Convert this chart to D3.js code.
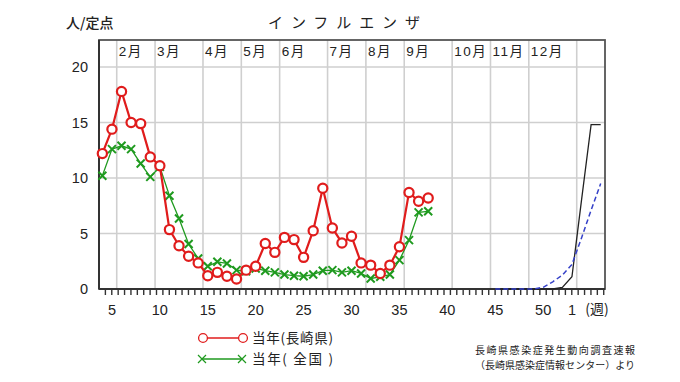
<!DOCTYPE html>
<html>
<head>
<meta charset="utf-8">
<script src="https://cdn.jsdelivr.net/npm/d3@7"></script>
<style>
  body { margin: 0; background: #fff; }
  svg text { font-family: "Liberation Sans Narrow", "Liberation Sans", sans-serif; fill: #222; }
  svg text.jp { font-family: "Noto Sans CJK JP", sans-serif; }
</style>
</head>
<body>
<svg id="chart" width="680" height="382"></svg>
<script>
// weekly reports per sentinel site
const weeks = d3.range(4, 39);
const nagasaki = [12.2, 14.4, 17.8, 15.0, 14.9, 11.9, 11.1, 5.35, 3.9, 2.95, 2.35, 1.2, 1.5, 1.15, 0.9,
  1.7, 2.05, 4.1, 3.3, 4.65, 4.45, 2.85, 5.25, 9.07, 5.5, 4.15, 4.75, 2.35, 2.15, 1.4, 2.15, 3.8, 8.7, 7.9, 8.2];
const national = [10.2, 12.6, 12.9, 12.6, 11.3, 10.1, 11.0, 8.4, 6.35, 4.05, 2.75, 2.05, 2.45, 2.3, 1.7,
  1.6, 1.85, 1.65, 1.5, 1.3, 1.2, 1.15, 1.3, 1.65, 1.7, 1.5, 1.65, 1.4, 0.95, 1.1, 1.3, 2.6, 4.4, 6.9, 7.0];

// tail lines on the right (solid black / dashed blue)
const lateWeeks = d3.range(45, 57);
const lateSolid = [0, 0, 0, 0, 0, 0, 0, 0.15, 1.1, 8.0, 14.8, 14.8];
const lateDashed = [0, 0, 0, 0, 0, 0.15, 0.65, 1.25, 2.2, 4.6, 7.1, 9.5];

const yTicks = [0, 5, 10, 15, 20];
const weekTicks = [5, 10, 15, 20, 25, 30, 35, 40, 45, 50, 53];
const weekTickLabels = ["5", "10", "15", "20", "25", "30", "35", "40", "45", "50", "1"];
const monthBounds = [5.5, 9.5, 14.5, 18.5, 22.5, 27.5, 31.5, 35.5, 40.5, 44.5, 48.5, 53.5];
const monthLabels = ["2月", "3月", "4月", "5月", "6月", "7月", "8月", "9月", "10月", "11月", "12月"];

const box = { left: 99, right: 605, top: 40, bottom: 289 };
const red = "#e01c1c", green = "#1f9a1f";

const svg = d3.select("#chart");
const x = d3.scaleLinear().domain([3.65, 56.45]).range([box.left, box.right]);
const y = d3.scaleLinear().domain([0, 20]).range([box.bottom, 67]);

// grid
const grid = svg.append("g").attr("stroke", "#cfcfcf").attr("stroke-width", 1.6);
grid.selectAll(".vg").data(monthBounds).join("line")
  .attr("x1", d => x(d)).attr("x2", d => x(d)).attr("y1", box.top).attr("y2", box.bottom);
grid.selectAll(".hg").data(yTicks.slice(1)).join("line")
  .attr("x1", box.left).attr("x2", box.right).attr("y1", d => y(d)).attr("y2", d => y(d));

// frame
svg.append("rect").attr("x", box.left).attr("y", box.top)
  .attr("width", box.right - box.left).attr("height", box.bottom - box.top)
  .attr("fill", "none").attr("stroke", "#555").attr("stroke-width", 1.8);
svg.append("line").attr("x1", box.left).attr("x2", box.right).attr("y1", box.bottom).attr("y2", box.bottom)
  .attr("stroke", "#333").attr("stroke-width", 2);
svg.append("line").attr("x1", box.left).attr("x2", box.left).attr("y1", box.top).attr("y2", box.bottom)
  .attr("stroke", "#333").attr("stroke-width", 2);

// minor ticks under the axis
svg.append("g").selectAll("line").data(d3.range(3.65 + 2 / 3, 56.45, 2 / 3)).join("line")
  .attr("x1", d => x(d)).attr("x2", d => x(d)).attr("y1", box.bottom).attr("y2", box.bottom + 6)
  .attr("stroke", "#333").attr("stroke-width", 1.4);

// axis labels
svg.append("g").selectAll("text").data(yTicks).join("text")
  .attr("x", 88).attr("y", d => y(d)).attr("dy", "0.36em").attr("text-anchor", "end")
  .attr("font-size", 14.5).text(d => d);
svg.append("g").selectAll("text").data(weekTicks).join("text")
  .attr("x", d => x(d)).attr("y", 315).attr("text-anchor", "middle")
  .attr("font-size", 14.5).text((d, i) => weekTickLabels[i]);
svg.append("text").attr("class", "jp").attr("x", box.right - 8).attr("y", 314).attr("text-anchor", "middle")
  .attr("font-size", 14).text("(週)");

svg.append("g").selectAll("text").data(monthLabels).join("text")
  .attr("x", (d, i) => x(monthBounds[i]) + 2).attr("y", 56)
  .attr("font-size", 13.5).attr("letter-spacing", "1.5px")
  .style("font-family", "\"Liberation Sans\", \"Noto Sans CJK JP\", sans-serif")
  .text(d => d);

svg.append("text").attr("class", "jp").attr("x", 66).attr("y", 28).attr("font-size", 14)
  .attr("font-weight", 500).text("人/定点");
svg.append("text").attr("class", "jp").attr("x", 268).attr("y", 28).attr("font-size", 15)
  .attr("textLength", 152).attr("lengthAdjust", "spacing").text("インフルエンザ");

// tail lines
const lineOf = xs => d3.line().x((d, i) => x(xs[i])).y(d => y(d));
svg.append("path").datum(lateSolid).attr("d", lineOf(lateWeeks))
  .attr("fill", "none").attr("stroke", "#222").attr("stroke-width", 1.3);
svg.append("path").datum(lateDashed).attr("d", lineOf(lateWeeks))
  .attr("fill", "none").attr("stroke", "#3440c8").attr("stroke-width", 1.5).attr("stroke-dasharray", "5,3");

// national series
svg.append("path").datum(national).attr("d", lineOf(weeks))
  .attr("fill", "none").attr("stroke", green).attr("stroke-width", 1.3);
const cross = (g, cx, cy) => g.append("path")
  .attr("d", `M${cx - 4},${cy - 4}L${cx + 4},${cy + 4}M${cx - 4},${cy + 4}L${cx + 4},${cy - 4}`)
  .attr("stroke", green).attr("stroke-width", 2).attr("fill", "none");
const gx = svg.append("g");
national.forEach((v, i) => cross(gx, x(weeks[i]), y(v)));

// Nagasaki series
svg.append("path").datum(nagasaki).attr("d", lineOf(weeks))
  .attr("fill", "none").attr("stroke", red).attr("stroke-width", 2.2);
svg.append("g").selectAll("circle").data(nagasaki).join("circle")
  .attr("cx", (d, i) => x(weeks[i])).attr("cy", d => y(d)).attr("r", 4.6)
  .attr("fill", "#fff").attr("stroke", red).attr("stroke-width", 2.2);

// legend
const lg = svg.append("g");
lg.append("line").attr("x1", 203).attr("x2", 243).attr("y1", 338).attr("y2", 338)
  .attr("stroke", red).attr("stroke-width", 1.5);
lg.selectAll("circle").data([203, 243]).join("circle")
  .attr("cx", d => d).attr("cy", 338).attr("r", 4.4)
  .attr("fill", "#fff").attr("stroke", red).attr("stroke-width", 1.3);
lg.append("line").attr("x1", 202).attr("x2", 242).attr("y1", 359).attr("y2", 359)
  .attr("stroke", green).attr("stroke-width", 1.3);
cross(lg, 202, 359).attr("stroke-width", 1.2);
cross(lg, 242, 359).attr("stroke-width", 1.2);
lg.append("text").attr("class", "jp").attr("x", 252).attr("y", 338).attr("dy", "0.36em")
  .attr("font-size", 13.5).attr("textLength", 81).attr("lengthAdjust", "spacing").text("当年(長崎県)");
lg.append("text").attr("class", "jp").attr("x", 252).attr("y", 359).attr("dy", "0.36em")
  .attr("font-size", 13.5).attr("textLength", 81).attr("lengthAdjust", "spacing").text("当年( 全国 )");

svg.append("text").attr("class", "jp").attr("x", 475).attr("y", 350).attr("dy", "0.36em")
  .attr("font-size", 10).attr("textLength", 160).attr("lengthAdjust", "spacing").text("長崎県感染症発生動向調査速報");
svg.append("text").attr("class", "jp").attr("x", 475).attr("y", 365).attr("dy", "0.36em")
  .attr("font-size", 10).attr("textLength", 160).attr("lengthAdjust", "spacing").text("（長崎県感染症情報センター）より");
</script>
</body>
</html>
